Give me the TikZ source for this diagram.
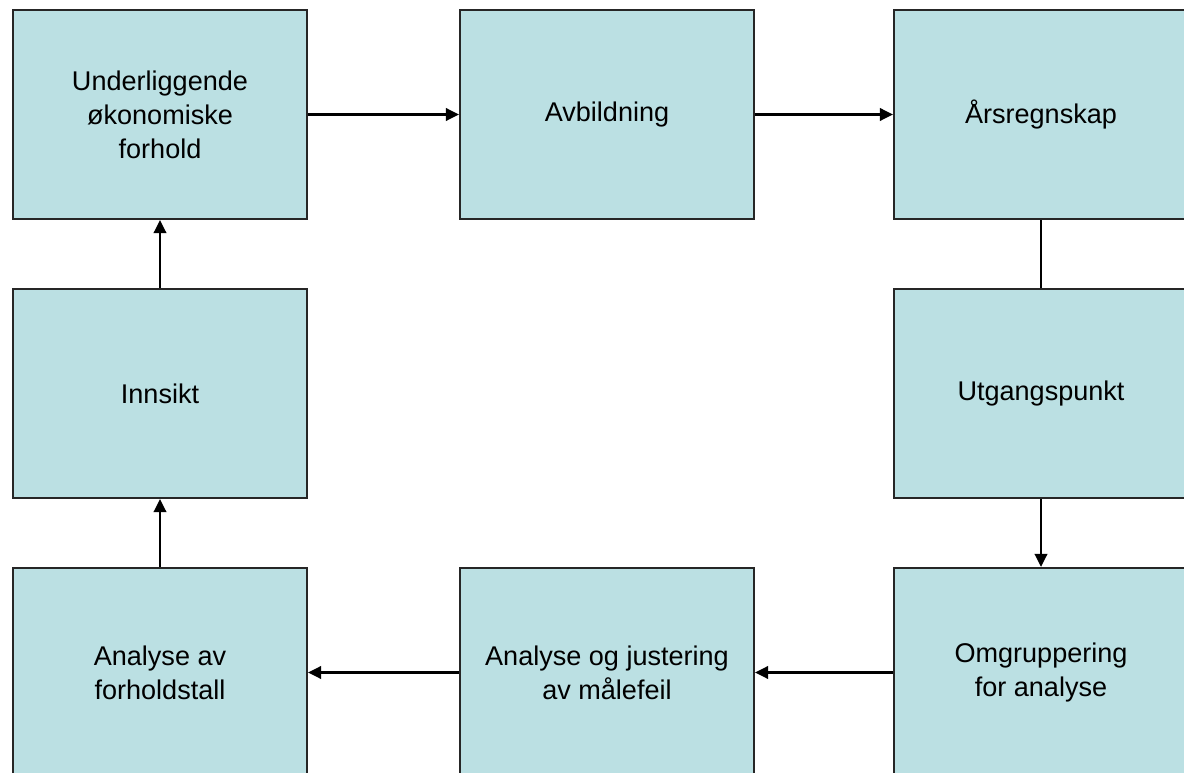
\documentclass[tikz,border=0pt]{standalone}
\usepackage{fontspec}
\setmainfont{Liberation Sans}
\usetikzlibrary{arrows.meta, positioning}
\definecolor{boxblue}{RGB}{187,224,227}

\begin{document}
\begin{tikzpicture}[x=0.02cm, y=-0.02cm,
    box/.style={draw=black!85, line width=1.3pt, fill=boxblue, minimum width=5.88cm, minimum height=4.18cm, inner sep=0pt, align=center, font=\fontsize{15.4}{19.4}\selectfont},
    link/.style={line width=1.3pt, -{Triangle[length=0.26cm, width=0.25cm]}}]
    % Frame
    \clip (0,0) rectangle (1184,773);

    % Top row
    \node[box] (forhold) at (160,114.5) {Underliggende\\økonomiske\\forhold};
    \node[box] (avbild) at (607,114.5) {Avbildning};
    \node[box] (regnskap) at (1041,114.5) {Årsregnskap};

    % Middle row
    \node[box] (innsikt) at (160,393.5) {Innsikt};
    \node[box] (utgang) at (1041,393.5) {Utgangspunkt};

    % Bottom row
    \node[box] (ratio) at (160,672.5) {Analyse av\\forholdstall};
    \node[box] (justering) at (607,672.5) {Analyse og justering\\av målefeil};
    \node[box] (omgrupp) at (1041,672.5) {Omgruppering\\for analyse};

    % Connectors
    \draw[link] (forhold) -- (avbild);
    \draw[link] (avbild) -- (regnskap);
    \draw[line width=1.3pt] (regnskap) -- (utgang);
    \draw[link] (utgang) -- (omgrupp);
    \draw[link] (omgrupp) -- (justering);
    \draw[link] (justering) -- (ratio);
    \draw[link] (ratio) -- (innsikt);
    \draw[link] (innsikt) -- (forhold);
\end{tikzpicture}
\end{document}
